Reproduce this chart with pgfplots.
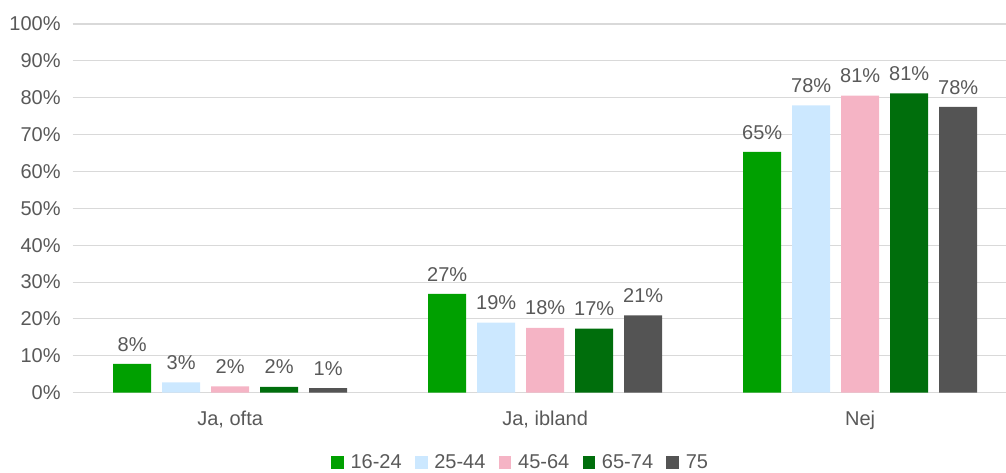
\documentclass[border=0pt]{standalone}
\usepackage{fontspec}
\setmainfont{Liberation Sans}
\usepackage{pgfplots}
\pgfplotsset{compat=1.18}
\definecolor{cA}{HTML}{00A000}
\definecolor{cB}{HTML}{CCE8FF}
\definecolor{cC}{HTML}{F5B4C5}
\definecolor{cD}{HTML}{006E0C}
\definecolor{cE}{HTML}{545454}
\definecolor{txt}{HTML}{595959}
\definecolor{gridc}{HTML}{D9D9D9}
\pgfplotsset{sqlegend/.style={legend image code/.code={\fill[##1] (0pt,-4.75pt) rectangle (9.5pt,4.75pt);}}}
\begin{document}
\begin{tikzpicture}[font=\fontsize{15pt}{18pt}\selectfont]
\begin{axis}[
  width=700pt, height=276.5pt, scale only axis,
  ybar=8.25pt, bar width=28.5pt,
  xmin=-0.5, xmax=2.463, ymin=0, ymax=100,
  xtick={0,1,2}, xticklabels={{Ja, ofta},{Ja, ibland},Nej},
  ytick={0,10,...,100}, yticklabel={\pgfmathprintnumber{\tick}\%},
  /pgf/number format/assume math mode=true,
  ymajorgrids, grid style={gridc, line width=0.8pt},
  axis line style={draw=none},
  major tick length=0pt,
  tick label style={text=txt},
  xticklabel style={yshift=-10pt},
  yticklabel style={xshift=-5.5pt},
  nodes near coords={\pgfmathprintnumber[fixed,precision=0]{\pgfplotspointmeta}\%},
  every node near coord/.append style={text=txt, yshift=6pt},
  legend columns=5,
  legend style={at={(0.4803,-0.190)}, anchor=center, draw=none, fill=none,
    text=txt, font=\fontsize{15pt}{18pt}\selectfont,
    /tikz/every odd column/.append style={column sep=3pt},
    /tikz/every even column/.append style={column sep=8pt},
    inner sep=0pt},
]
\addplot[fill=cA, draw=none, sqlegend] coordinates {(0,7.8) (1,26.8) (2,65.3)};
\addplot[fill=cB, draw=none, sqlegend] coordinates {(0,2.8) (1,19.0) (2,77.9)};
\addplot[fill=cC, draw=none, sqlegend] coordinates {(0,1.7) (1,17.6) (2,80.6)};
\addplot[fill=cD, draw=none, sqlegend] coordinates {(0,1.6) (1,17.4) (2,81.2)};
\addplot[fill=cE, draw=none, sqlegend] coordinates {(0,1.2) (1,21.0) (2,77.5)};
\legend{16-24,25-44,45-64,65-74,75}
\end{axis}
\pgfresetboundingbox
\path ([shift={(-54.5pt,-59.5pt)}]current axis.south west) rectangle ([shift={(0pt,18pt)}]current axis.north east);
\end{tikzpicture}
\end{document}
